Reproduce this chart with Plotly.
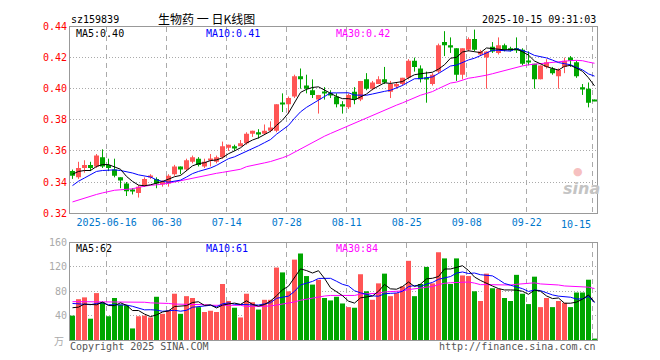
import numpy as np
import pandas as pd
import plotly.graph_objects as go

# ---------------- data ----------------
tick_labels = ["2025-06-16", "06-30", "07-14", "07-28", "08-11", "08-25", "09-08", "09-22", "10-15"]
tick_index = [6, 16, 26, 36, 46, 56, 66, 76, 87]

open_ = [.347, .343, .349, .351, .350, .356, .351, .348, .343, .339,
         .335, .333, .338, .343, .342, .339, .339, .345, .350, .348,
         .353, .355, .350, .354, .353, .356, .362, .363, .363, .365,
         .371, .372, .371, .373, .373, .391, .390, .395, .408, .402,
         .399, .393, .398, .397, .395, .390, .388, .398, .393, .406,
         .400, .403, .406, .398, .402, .403, .407, .418, .413, .407,
         .403, .411, .430, .428, .426, .409, .425, .432, .422, .420,
         .427, .423, .428, .426, .426, .425, .418, .416, .406, .414,
         .413, .408, .414, .420, .417, .401, .400, .393]
high = [.348, .353, .354, .353, .358, .361, .355, .355, .343, .340,
        .336, .338, .343, .345, .343, .341, .345, .351, .350, .355,
        .357, .356, .355, .358, .357, .366, .364, .364, .367, .372,
        .373, .374, .377, .379, .390, .397, .395, .409, .413, .409,
        .406, .396, .401, .399, .397, .392, .397, .401, .405, .410,
        .405, .408, .414, .405, .404, .407, .419, .420, .415, .411,
        .410, .429, .437, .433, .426, .426, .433, .438, .425, .424,
        .430, .433, .429, .427, .433, .426, .424, .416, .415, .419,
        .414, .413, .420, .421, .418, .403, .404, .393]
low = [.342, .342, .346, .347, .349, .349, .347, .343, .336, .331,
       .332, .330, .337, .342, .336, .337, .337, .344, .345, .347,
       .352, .350, .349, .350, .352, .355, .360, .360, .363, .364,
       .369, .368, .371, .372, .372, .385, .384, .394, .400, .397,
       .394, .384, .393, .394, .388, .384, .387, .390, .392, .399,
       .399, .403, .403, .394, .400, .402, .406, .411, .404, .391,
       .402, .410, .421, .423, .405, .406, .424, .424, .421, .400,
       .423, .422, .424, .424, .423, .415, .415, .400, .406, .413,
       .409, .400, .410, .414, .407, .396, .388, .392]
close = [.344, .349, .351, .349, .357, .350, .349, .344, .341, .334,
         .334, .337, .342, .344, .339, .340, .344, .350, .348, .354,
         .356, .351, .353, .355, .356, .363, .364, .362, .365, .371,
         .373, .371, .373, .375, .390, .390, .394, .408, .406, .400,
         .396, .396, .397, .396, .390, .389, .396, .393, .405, .400,
         .404, .406, .404, .403, .403, .407, .418, .414, .406, .406,
         .409, .428, .428, .427, .409, .426, .432, .425, .424, .424,
         .424, .428, .425, .425, .425, .416, .417, .406, .415, .417,
         .410, .412, .418, .418, .408, .400, .391, .392]
volume = [40, 67, 70, 35, 77, 62, 39, 69, 58, 57,
          19, 39, 40, 37, 71, 43, 48, 76, 43, 72,
          69, 54, 46, 48, 46, 92, 64, 53, 37, 76,
          62, 50, 66, 66, 119, 111, 80, 132, 142, 105,
          91, 99, 69, 65, 71, 60, 54, 53, 108, 80,
          66, 93, 109, 72, 77, 88, 130, 72, 92, 120,
          93, 144, 134, 92, 134, 106, 105, 80, 64, 109,
          85, 84, 69, 64, 107, 76, 59, 104, 54, 69,
          54, 64, 61, 54, 78, 78, 99, 2]

# moving-average values before enough visible days exist
ma5_head = [.345, .3468, .3474, .3474]
ma10_head = [.3377, .3405, .3426, .3447, .3468, .3474, .3478, .3478, .3474]
ma30_head = [.3272, .3285, .3298, .3310, .3320, .3330, .3340, .3347, .3350, .3352,
             .3356, .3366, .3373, .3379, .3382, .3386, .3392, .3400, .3408, .3418,
             .3428, .3435, .3442, .3450, .3456, .3462, .3468, .3474, .3482]
vma5_head = [53, 54, 59, 58]
vma10_head = [60, 59, 58, 58, 60, 61, 58, 58, 58]
vma30_head = [63, 63, 63, 63, 63, 63, 63, 62, 62, 62, 62, 62, 62, 61, 61, 60, 60, 59, 59,
              58, 58, 58, 58, 57, 57, 57, 57, 57, 57]

price_ma_text = ["MA5:0.40", "MA10:0.41", "MA30:0.42"]
vol_ma_text = ["MA5:62", "MA10:61", "MA30:84"]

# ---------------- styling ----------------
RED = "#FF5555"
GREEN = "#00A600"
MONO = "DejaVu Sans Mono"
GRID = "#AAAAAA"
BORDER = "#999999"
BODY_OFFSET = 8  # the page body margin shifts the figure by this many pixels


def ma(values, n, head):
    s = pd.Series(values, dtype=float).rolling(n).mean().to_numpy()
    s[:len(head)] = head
    return s


o = np.array(open_)
h = np.array(high)
l = np.array(low)
c = np.array(close)
v = np.array(volume, dtype=float)
x = np.arange(len(c))
up = c >= o
colors = np.where(up, RED, GREEN)

fig = go.Figure()

# candle bodies
fig.add_trace(go.Bar(x=x, y=np.maximum(np.abs(c - o), 0.0007), base=np.minimum(o, c),
                     width=5 / 6, marker=dict(color=colors, line=dict(width=0)),
                     xaxis="x", yaxis="y", hoverinfo="skip"))
# wicks
for mask, col in ((up, RED), (~up, GREEN)):
    wx, wy = [], []
    for i in x[mask]:
        wx += [i, i, None]
        wy += [l[i], h[i], None]
    fig.add_trace(go.Scatter(x=wx, y=wy, mode="lines", line=dict(color=col, width=1),
                             xaxis="x", yaxis="y", hoverinfo="skip"))

for n, col, head in ((30, "#FF00FF", ma30_head), (10, "#0000FF", ma10_head), (5, "#000000", ma5_head)):
    fig.add_trace(go.Scatter(x=x, y=ma(c, n, head), mode="lines", line=dict(color=col, width=1),
                             xaxis="x", yaxis="y", hoverinfo="skip"))

# volume
fig.add_trace(go.Bar(x=x, y=v, width=5 / 6, marker=dict(color=colors, line=dict(width=0)),
                     xaxis="x2", yaxis="y2", hoverinfo="skip"))
for n, col, head in ((30, "#FF00FF", vma30_head), (10, "#0000FF", vma10_head), (5, "#000000", vma5_head)):
    fig.add_trace(go.Scatter(x=x, y=ma(v, n, head), mode="lines", line=dict(color=col, width=1),
                             xaxis="x2", yaxis="y2", hoverinfo="skip"))

grid_x = [i - 0.3 for i in tick_index]
xr = [-0.4167, len(c) - 1 + 0.4167]

common_x = dict(range=xr, tickmode="array", tickvals=grid_x, showgrid=True, gridcolor=GRID,
                griddash="5px,4px", gridwidth=1, showline=True, linecolor=BORDER, linewidth=1,
                mirror=True, ticks="", zeroline=False, fixedrange=True)

fig.update_layout(
    width=660, height=360,
    margin=dict(l=70 - BODY_OFFSET, r=63 + BODY_OFFSET, t=20 - BODY_OFFSET, b=20 + BODY_OFFSET),
    paper_bgcolor="white", plot_bgcolor="white",
    showlegend=False, barmode="overlay",
    xaxis=dict(**common_x, anchor="y", domain=[0, 1],
               ticktext=tick_labels[:-1] + [""],
               tickfont=dict(family=MONO, size=10, color="#0077CC")),
    xaxis2=dict(**common_x, anchor="y2", domain=[0, 1], matches="x", showticklabels=False),
    yaxis=dict(domain=[0.4041, 0.9984], range=[0.32, 0.44], tickmode="array",
               tickvals=[0.32, 0.34, 0.36, 0.38, 0.40, 0.42, 0.44],
               ticktext=["0.32", "0.34", "0.36", "0.38", "0.40", "0.42", "0.44"],
               tickfont=dict(family=MONO, size=10, color="#FF0000"),
               showgrid=True, gridcolor=GRID, griddash="1px,2px", gridwidth=1,
               showline=True, linecolor=BORDER, mirror=True, ticks="", zeroline=False,
               anchor="x", fixedrange=True),
    yaxis2=dict(domain=[0, 0.3103], range=[0, 160], tickmode="array",
                tickvals=[40, 80, 120, 160], ticktext=["40", "80", "120", "160"],
                tickfont=dict(family=MONO, size=10, color="#AAAAAA"),
                showgrid=True, gridcolor=GRID, griddash="1px,2px", gridwidth=1,
                showline=True, linecolor=BORDER, mirror=True, ticks="", zeroline=False,
                anchor="x2", fixedrange=True),
)


def px_x(p):
    return (p - 70) / 527


def px_y(p):
    return (340 - p) / 320


ann = []


def add_text(text, xp, yp, xanchor="left", color="#000000", size=10, family=MONO, xref="paper"):
    ann.append(dict(text=text, x=xp, y=px_y(yp), xref=xref, yref="paper",
                    xanchor=xanchor, yanchor="middle", showarrow=False,
                    font=dict(family=family, size=size, color=color)))


add_text("sz159839", px_x(69), 13)
add_text("生物药 一 日K线图", px_x(206), 12, xanchor="center", size=12, family="Noto Sans CJK SC")
add_text("2025-10-15 09:31:03", px_x(598), 13, xanchor="right")
for txt, xp, col in zip(price_ma_text, (74, 204, 334), ("#000000", "#0000FF", "#FF00FF")):
    add_text(txt, px_x(xp), 28, color=col)
for txt, xp, col in zip(vol_ma_text, (74, 204, 334), ("#000000", "#0000FF", "#FF00FF")):
    add_text(txt, px_x(xp), 247, color=col)
add_text(tick_labels[-1], tick_index[-1] - 0.2, 222, xanchor="right", color="#0077CC", xref="x")
add_text("万", px_x(66), 340, xanchor="right", color="#AAAAAA", size=10, family="Noto Sans CJK SC")
add_text("Copyright 2025 SINA.COM", px_x(68), 347, color="#555555")
add_text("http://finance.sina.com.cn", px_x(598), 347, xanchor="right", color="#555555")
add_text("<b><i>sina</i></b>", px_x(581), 186, xanchor="center", color="#C4C4C4", size=16, family="DejaVu Sans")
add_text("●", px_x(578), 168, xanchor="center", color="#F6C0C0", size=11, family="DejaVu Sans")
fig.update_layout(annotations=ann)

fig.write_html("out.html")
